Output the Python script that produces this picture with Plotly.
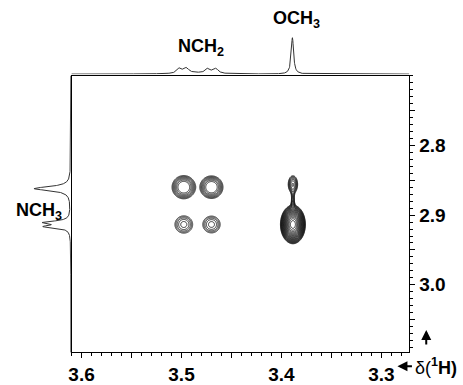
import numpy as np
import plotly.graph_objects as go

W, H = 463, 385

# ---------------- data ----------------
# NCH2 / NCH3 cross peaks (ppm)
nch2_x = [3.4977, 3.4700, 3.4977, 3.4700]
nch2_y = [2.8600, 2.8600, 2.9135, 2.9135]
nch2_amp = [15.8, 15.8, 4.8, 4.8]
nch2_sx = [0.0050, 0.0049, 0.0050, 0.0049]
nch2_sy = [0.0071, 0.0069, 0.0070, 0.0068]

# OCH3 / NCH3 cross peaks (ppm): main peak, weak upper peak, ridge between
och3_x = [3.3885, 3.3885, 3.3885]
och3_y = [2.9135, 2.8560, 2.8800]
och3_amp = [11.0, 2.0, 1.15]
och3_sx = [0.0057, 0.0040, 0.0013]
och3_sy = [0.0126, 0.0105, 0.0090]

# top (F2) projection lines
top_pos = [3.5020, 3.4950, 3.4735, 3.4655, 3.3890, 3.5360, 3.3030, 3.4850]
top_h = [0.14, 0.14, 0.13, 0.13, 1.00, 0.02, 0.02, 0.03]
top_w = [0.0028, 0.0028, 0.0028, 0.0028, 0.0014, 0.003, 0.003, 0.02]

# left (F1) projection lines
left_pos = [2.8620, 2.9105, 2.9165]
left_h = [1.08, 0.74, 0.72]
left_w = [0.0035, 0.0024, 0.0024]

x_ticks = [3.30, 3.35, 3.40, 3.45, 3.50, 3.55, 3.60]
x_labels = ["3.3", "", "3.4", "", "3.5", "", "3.6"]
y_ticks = [2.75, 2.80, 2.85, 2.90, 2.95, 3.00, 3.05]
y_labels = ["", "2.8", "", "2.9", "", "3.0", ""]

X_RANGE = [3.61, 3.272]
Y_RANGE = [3.097, 2.700]

# ---------------- build spectra from the peak lists ----------------
gx = np.arange(3.36, 3.53, 0.0003)
gy = np.arange(2.83, 2.96, 0.0004)
GX, GY = np.meshgrid(gx, gy)


def gauss_map(xs, ys, amps, sxs, sys_):
    z = np.zeros_like(GX)
    for x0, y0, a, sx, sy in zip(xs, ys, amps, sxs, sys_):
        z += a * np.exp(-((GX - x0) ** 2) / (2 * sx ** 2)
                        - ((GY - y0) ** 2) / (2 * sy ** 2))
    return np.log10(z + 1e-4)


Z_nch2 = gauss_map(nch2_x, nch2_y, nch2_amp, nch2_sx, nch2_sy)
Z_och3 = gauss_map(och3_x, och3_y, och3_amp, och3_sx, och3_sy)

tx = np.arange(3.272, 3.6105, 0.0002)
ty = np.zeros_like(tx)
for p, h, w in zip(top_pos, top_h, top_w):
    ty += h * w ** 2 / ((tx - p) ** 2 + w ** 2)

ly = np.arange(2.700, 3.0975, 0.0002)
lx = np.zeros_like(ly)
for p, h, w in zip(left_pos, left_h, left_w):
    lx += h * w ** 2 / ((ly - p) ** 2 + w ** 2)

# ---------------- figure ----------------
def px(v):
    return v / W


def py(v):
    return 1 - v / H


fig = go.Figure()

black_scale = [[0, "#151515"], [1, "#151515"]]
fig.add_trace(go.Contour(
    x=gx, y=gy, z=Z_nch2,
    contours=dict(coloring="lines", start=0.0, end=0.9, size=0.15),
    colorscale=black_scale, showscale=False, line=dict(width=0.9),
    hoverinfo="skip", xaxis="x", yaxis="y"))
fig.add_trace(go.Contour(
    x=gx, y=gy, z=Z_och3,
    contours=dict(coloring="lines", start=0.0, end=1.0, size=0.05),
    colorscale=black_scale, showscale=False, line=dict(width=0.9),
    hoverinfo="skip", xaxis="x", yaxis="y"))

fig.add_trace(go.Scatter(x=tx, y=ty, mode="lines",
                         line=dict(color="#333", width=1),
                         xaxis="x2", yaxis="y2", hoverinfo="skip"))
fig.add_trace(go.Scatter(x=lx, y=ly, mode="lines",
                         line=dict(color="#333", width=1),
                         xaxis="x3", yaxis="y3", hoverinfo="skip"))

tick_font = dict(family="Liberation Sans", size=19, color="black", weight="bold")
main_xdom = [px(69), px(409)]
main_ydom = [py(359), py(77)]

fig.update_layout(
    width=W, height=H,
    margin=dict(l=0, r=0, t=0, b=0),
    paper_bgcolor="white", plot_bgcolor="rgba(0,0,0,0)",
    showlegend=False,
    xaxis=dict(domain=main_xdom, range=X_RANGE, anchor="y",
               tickmode="array", tickvals=x_ticks, ticktext=x_labels,
               ticks="outside", ticklen=5, tickwidth=1, tickcolor="black",
               minor=dict(dtick=0.01, tick0=3.3, ticks="outside", ticklen=3,
                          tickcolor="black", showgrid=False),
               showline=True, linecolor="black", linewidth=1, mirror=True,
               showgrid=False, zeroline=False,
               tickfont=tick_font),
    yaxis=dict(domain=main_ydom, range=Y_RANGE, anchor="x", side="right",
               tickmode="array", tickvals=y_ticks, ticktext=y_labels,
               ticks="outside", ticklen=5, tickwidth=1, tickcolor="black",
               minor=dict(dtick=0.01, tick0=2.7, ticks="outside", ticklen=3,
                          tickcolor="black", showgrid=False),
               showline=True, linecolor="black", linewidth=1, mirror=True,
               showgrid=False, zeroline=False,
               tickfont=tick_font),
    xaxis2=dict(domain=main_xdom, range=X_RANGE, anchor="y2",
                visible=False, matches="x"),
    yaxis2=dict(domain=[py(75.5), 1.0], range=[0, 2.04], anchor="x2",
                visible=False),
    xaxis3=dict(domain=[0.0, px(68.3)], range=[2.0, 0], anchor="y3",
                visible=False),
    yaxis3=dict(domain=main_ydom, range=Y_RANGE, anchor="x3",
                visible=False, matches="y"),
)

lab_font = dict(family="Liberation Sans", size=18, color="black")
annots = [
    dict(text="<b>OCH<sub>3</sub></b>", x=px(295), y=py(20), xanchor="center"),
    dict(text="<b>NCH<sub>2</sub></b>", x=px(199), y=py(48), xanchor="center"),
    dict(text="<b>NCH<sub>3</sub></b>", x=px(36), y=py(215), xanchor="center"),
    dict(text="δ(<b><sup>1</sup>H)</b>", x=px(413), y=py(373), xanchor="left"),
]
for a in annots:
    fig.add_annotation(xref="paper", yref="paper", showarrow=False,
                       font=lab_font, yanchor="middle", **a)

# axis-direction arrows (tail offsets in pixels)
fig.add_annotation(xref="paper", yref="paper", axref="pixel", ayref="pixel",
                   x=px(397), y=py(373), ax=16, ay=0, text="",
                   showarrow=True, arrowhead=2, arrowsize=1, arrowwidth=2,
                   arrowcolor="black")
fig.add_annotation(xref="paper", yref="paper", axref="pixel", ayref="pixel",
                   x=px(426), y=py(336), ax=0, ay=16, text="",
                   showarrow=True, arrowhead=2, arrowsize=1, arrowwidth=2,
                   arrowcolor="black")

fig.write_html(
    "out.html",
    config={"displayModeBar": False},
    post_script="document.body.style.margin='0px';"
                "document.documentElement.style.overflow='hidden';")
